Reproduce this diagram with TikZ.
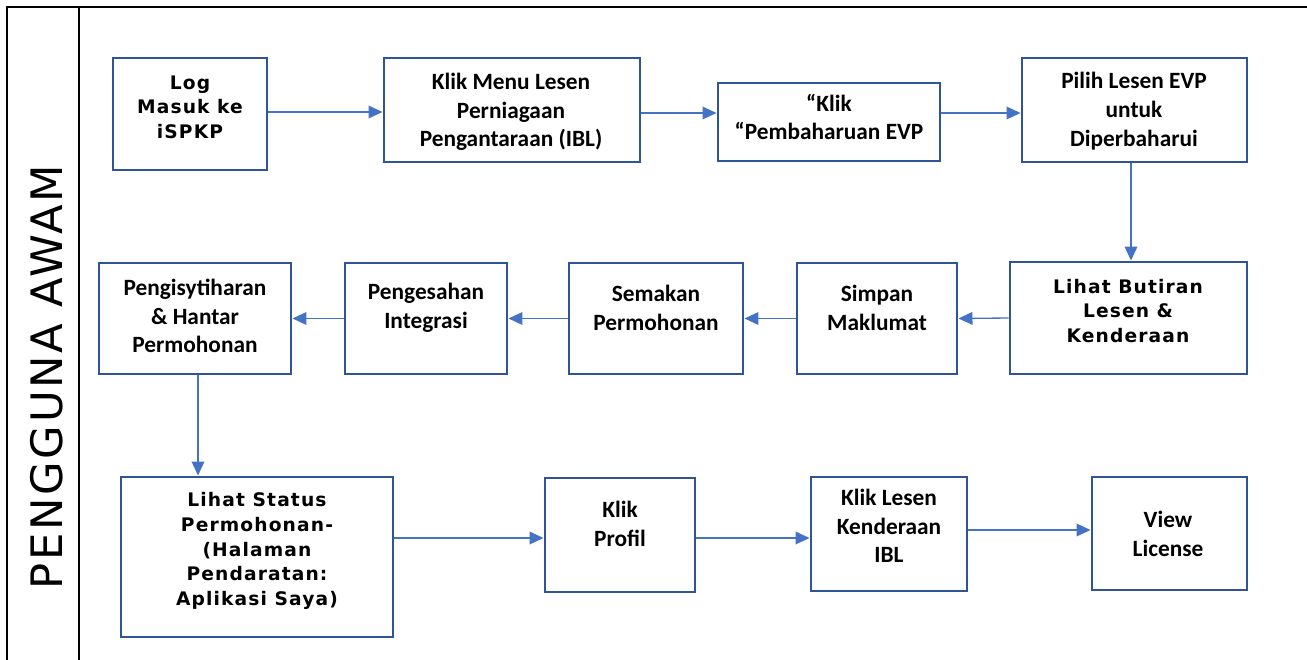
\documentclass[tikz,border=0pt]{standalone}
\usepackage{fontspec}
\setmainfont{Carlito}
\newfontfamily\spacedfont[LetterSpace=6]{DejaVu Sans}
\newfontfamily\lanefont[LetterSpace=6]{DejaVu Sans}
\usetikzlibrary{arrows.meta,fit}
\definecolor{boxblue}{HTML}{2F5597}
\definecolor{arrblue}{HTML}{4472C4}
\tikzset{
  box/.style={draw=boxblue, line width=2.2pt, inner sep=0pt, fill=white},
  txt/.style={align=center, font=\fontsize{17.5}{21.5}\selectfont\bfseries, inner sep=0pt},
  stxt/.style={align=center, font=\fontsize{14}{18.5}\selectfont\spacedfont\bfseries, inner sep=0pt},
  arr/.style={draw=arrblue, line width=1pt, -{Triangle[length=10.5pt,width=9.5pt]}},
  frame/.style={draw=black, line width=2.2pt},
}
\begin{document}
\begin{tikzpicture}[x=0.75pt,y=-0.75pt]
\useasboundingbox (0,0) rectangle (1307,660);
% frame
\draw[frame] (7,660) -- (7,7) -- (1307,7);
\draw[frame] (79,7) -- (79,660);
\node[rotate=90, font=\fontsize{32.5}{38}\selectfont\lanefont, inner sep=0pt] (lane) at (47,377) {PENGGUNA AWAM};
% row 1
\node[box, fit={(113,58) (267,170)}] (n1) {};
\node[stxt] (t1) at (190,107) {Log\\Masuk ke\\iSPKP};
\node[box, fit={(384,58) (640,162)}] (n2) {};
\node[txt] (t2) at (511,112) {Klik Menu Lesen\\Perniagaan\\Pengantaraan (IBL)};
\node[box, fit={(718,83) (940,161)}] (n3) {};
\node[txt] (t3) at (829,117) {“Klik\\“Pembaharuan EVP};
\node[box, fit={(1022,58) (1247,162)}] (n4) {};
\node[txt] (t4) at (1134,111) {Pilih Lesen EVP\\untuk\\Diperbaharui};
% row 2
\node[box, fit={(1010,262) (1247,374)}] (n5) {};
\node[stxt] (t5) at (1128,311) {Lihat Butiran\\Lesen \&\\Kenderaan};
\node[box, fit={(797,263) (957,374)}] (n6) {};
\node[txt] (t6) at (877,308) {Simpan\\Maklumat};
\node[box, fit={(569,263) (743,374)}] (n7) {};
\node[txt] (t7) at (656,308) {Semakan\\Permohonan};
\node[box, fit={(345,263) (507,374)}] (n8) {};
\node[txt] (t8) at (426,308) {Pengesahan\\Integrasi};
\node[box, fit={(99,263) (291,374)}] (n9) {};
\node[txt] (t9) at (195,316) {Pengisytiharan\\\& Hantar\\Permohonan};
% row 3
\node[box, fit={(121,477) (393,637)}] (n10) {};
\node[stxt] (t10) at (257,551) {Lihat Status\\Permohonan-\\(Halaman\\Pendaratan:\\Aplikasi Saya)};
\node[box, fit={(545,478) (695,592)}] (n11) {};
\node[txt] (t11) at (620,524) {Klik\\Profil};
\node[box, fit={(811,477) (967,591)}] (n12) {};
\node[txt] (t12) at (889,526) {Klik Lesen\\Kenderaan\\IBL};
\node[box, fit={(1092,477) (1247,590)}] (n13) {};
\node[txt] (t13) at (1168,534) {View\\License};
% connectors
\draw[arr] (n1.east |- 0,112) -- (n2.west |- 0,112);
\draw[arr] (n2.east |- 0,113) -- (n3.west |- 0,113);
\draw[arr] (n3.east |- 0,113) -- (n4.west |- 0,113);
\draw[arr] (n4.south -| 1131,0) -- (n5.north -| 1131,0);
\draw[arr] (n5.west) -- (n6.east);
\draw[arr] (n6.west) -- (n7.east);
\draw[arr] (n7.west) -- (n8.east);
\draw[arr] (n8.west) -- (n9.east);
\draw[arr] (n9.south -| 198,0) -- (n10.north -| 198,0);
\draw[arr] (n10.east |- 0,538) -- (n11.west |- 0,538);
\draw[arr] (n11.east |- 0,538) -- (n12.west |- 0,538);
\draw[arr] (n12.east |- 0,530) -- (n13.west |- 0,530);
\end{tikzpicture}
\end{document}
